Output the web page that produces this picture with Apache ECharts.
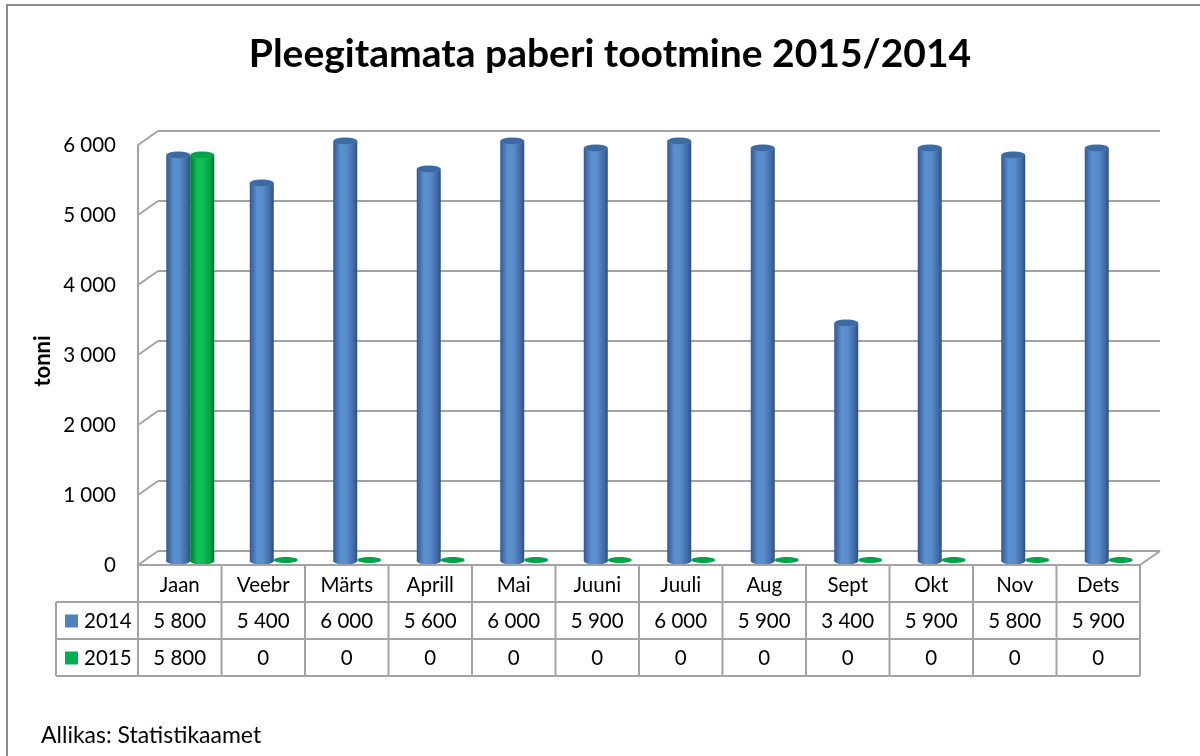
<!DOCTYPE html>
<html>
<head>
<meta charset="utf-8">
<script src="https://cdn.jsdelivr.net/npm/echarts@6/dist/echarts.min.js"></script>
<style>html,body{margin:0;padding:0;background:#fff}#c{width:1200px;height:756px}</style>
</head>
<body>
<div id="c"></div>
<script>
var categories = ['Jaan','Veebr','Märts','Aprill','Mai','Juuni','Juuli','Aug','Sept','Okt','Nov','Dets'];
var values2014 = [5800,5400,6000,5600,6000,5900,6000,5900,3400,5900,5800,5900];
var values2015 = [5800,0,0,0,0,0,0,0,0,0,0,0];
var seriesNames = ['2014','2015'];
var yTicks = [0,1000,2000,3000,4000,5000,6000];

var FONT = 'Lato';
var GRID_COLOR = '#a3a3a3';
var FS = 20.5;
function fmt(v){ return String(v).replace(/\B(?=(\d{3})+(?!\d))/g, ' '); }

var blueGrad = {type:'linear',x:0,y:0,x2:1,y2:0,colorStops:[
  {offset:0,color:'#33598b'},{offset:0.3,color:'#5b8fd0'},{offset:0.55,color:'#5a8ccc'},{offset:0.85,color:'#3f6ba6'},{offset:1,color:'#2c4f80'}]};
var greenGrad = {type:'linear',x:0,y:0,x2:1,y2:0,colorStops:[
  {offset:0,color:'#007a35'},{offset:0.3,color:'#10c25a'},{offset:0.55,color:'#0cbc55'},{offset:0.85,color:'#00a044'},{offset:1,color:'#006e30'}]};

function cylinder(offset, grad, topColor, zeroColor){
  return function(params, api){
    var v = api.value(1);
    var top = api.coord([api.value(0), v]);
    var bot = api.coord([api.value(0), 0]);
    var cx = top[0] + offset;
    var r = 12, ry = 3.5;
    if (v === 0) {
      return {type:'ellipse', shape:{cx:cx, cy:bot[1]-1, rx:r, ry:3}, style:{fill:zeroColor}};
    }
    return {type:'group', children:[
      {type:'ellipse', shape:{cx:cx, cy:bot[1], rx:r, ry:ry}, style:{fill:grad}},
      {type:'rect', shape:{x:cx-r, y:top[1], width:2*r, height:bot[1]-top[1]}, style:{fill:grad}},
      {type:'ellipse', shape:{cx:cx, cy:top[1], rx:r, ry:ry}, style:{fill:topColor, stroke:'rgba(255,255,255,0.15)', lineWidth:0.5}}
    ]};
  };
}

var chart = echarts.init(document.getElementById('c'));
var option = {
  backgroundColor:'#fff',
  animation:false,
  title:{text:'Pleegitamata paberi tootmine 2015/2014', left:605, top:30, textAlign:'center',
    textStyle:{fontFamily:FONT, fontWeight:'bold', fontSize:39, color:'#000'}},
  graphic:[
    {type:'rect', shape:{x:7, y:5, width:1250, height:800}, style:{fill:'none', stroke:'#8c8c8c', lineWidth:2}, silent:true, z:-1},
    {type:'text', left:41, top:724, style:{text:'Allikas: Statistikaamet', fontFamily:FONT, fontSize:23, fill:'#000'}},
    {type:'text', x:43, y:361, rotation:Math.PI/2, style:{text:'tonni', fontFamily:FONT, fontWeight:'bold', fontSize:22, fill:'#000', align:'center', verticalAlign:'middle'}}
  ],
  grid:[
    {left:158, top:131, width:1002, height:420},  // back wall
    {left:138, top:145, width:1002, height:420},  // front (axis + table)
    {left:148.5, top:141, width:1002, height:420} // bars (mid depth)
  ],
  xAxis:[
    {gridIndex:0, type:'category', data:categories, show:false},
    {gridIndex:1, type:'category', data:categories, axisLine:{show:false}, axisTick:{show:false}, axisLabel:{show:false}},
    {gridIndex:2, type:'category', data:categories, show:false}
  ],
  yAxis:[
    {gridIndex:0, type:'value', min:0, max:6000, interval:1000, axisLabel:{show:false}, axisLine:{show:false}, axisTick:{show:false},
      splitLine:{show:true, lineStyle:{color:GRID_COLOR, width:2}}},
    {gridIndex:1, type:'value', min:0, max:6000, interval:1000, splitLine:{show:false}, axisTick:{show:false},
      axisLine:{show:true, lineStyle:{color:GRID_COLOR, width:2}},
      axisLabel:{margin:22, fontFamily:FONT, fontSize:FS, color:'#000', formatter:fmt}},
    {gridIndex:2, type:'value', min:0, max:6000, interval:1000, show:false}
  ],
  series:[
    { // depth diagonals at ticks
      type:'custom', xAxisIndex:1, yAxisIndex:1, silent:true,
      data: yTicks.map(function(t){ return [0, t]; }),
      renderItem:function(params, api){
        var cs = params.coordSys;
        var y = api.coord([0, api.value(1)])[1];
        var ch = [{type:'line', shape:{x1:cs.x, y1:y, x2:cs.x+20, y2:y-14}, style:{stroke:GRID_COLOR, lineWidth:2}}];
        if (api.value(1) === 0) {
          ch.push({type:'line', shape:{x1:cs.x+cs.width, y1:y, x2:cs.x+cs.width+20, y2:y-14}, style:{stroke:GRID_COLOR, lineWidth:2}});
        }
        return {type:'group', children:ch};
      }
    },
    {
      name:seriesNames[0], type:'custom', xAxisIndex:2, yAxisIndex:2, z:5,
      data: values2014.map(function(v,i){ return [i, v]; }),
      renderItem: cylinder(-12, blueGrad, '#3c6aa3', '#3c6aa3')
    },
    {
      name:seriesNames[1], type:'custom', xAxisIndex:2, yAxisIndex:2, z:5,
      data: values2015.map(function(v,i){ return [i, v]; }),
      renderItem: cylinder(12, greenGrad, '#00a348', '#00a448')
    },
    { // data table
      type:'custom', xAxisIndex:1, yAxisIndex:1, silent:true, z:6,
      data: categories.map(function(c,i){ return [i, 0]; }),
      renderItem:function(params, api){
        var i = api.value(0);
        var c = api.coord([i, 0]);
        var w = api.size([1, 0])[0];
        var x0 = c[0] - w/2, x1 = c[0] + w/2, y0 = c[1], rh = 37;
        var ls = {stroke:GRID_COLOR, lineWidth:2};
        var ts = {fontFamily:FONT, fontSize:FS, fill:'#000', align:'center', verticalAlign:'middle'};
        var ch = [
          {type:'line', shape:{x1:x0, y1:y0, x2:x1, y2:y0}, style:ls},
          {type:'line', shape:{x1:x0, y1:y0+rh, x2:x1, y2:y0+rh}, style:ls},
          {type:'line', shape:{x1:x0, y1:y0+2*rh, x2:x1, y2:y0+2*rh}, style:ls},
          {type:'line', shape:{x1:x0, y1:y0+3*rh, x2:x1, y2:y0+3*rh}, style:ls},
          {type:'line', shape:{x1:x0, y1:y0, x2:x0, y2:y0+3*rh}, style:ls},
          {type:'text', style:Object.assign({x:c[0], y:y0+rh/2+2, text:categories[i]}, ts)},
          {type:'text', style:Object.assign({x:c[0], y:y0+rh*1.5+1, text:fmt(values2014[i])}, ts)},
          {type:'text', style:Object.assign({x:c[0], y:y0+rh*2.5+1, text:fmt(values2015[i])}, ts)}
        ];
        if (i === categories.length - 1) {
          ch.push({type:'line', shape:{x1:x1, y1:y0, x2:x1, y2:y0+3*rh}, style:ls});
        }
        if (i === 0) {
          var lx = x0 - 82;
          ch.push({type:'line', shape:{x1:lx, y1:y0+rh, x2:x0, y2:y0+rh}, style:ls});
          ch.push({type:'line', shape:{x1:lx, y1:y0+2*rh, x2:x0, y2:y0+2*rh}, style:ls});
          ch.push({type:'line', shape:{x1:lx, y1:y0+3*rh, x2:x0, y2:y0+3*rh}, style:ls});
          ch.push({type:'line', shape:{x1:lx, y1:y0+rh, x2:lx, y2:y0+3*rh}, style:ls});
          ch.push({type:'rect', shape:{x:lx+9, y:y0+rh*1.5-6, width:13, height:13}, style:{fill:'#4f81bd'}});
          ch.push({type:'rect', shape:{x:lx+9, y:y0+rh*2.5-6, width:13, height:13}, style:{fill:'#00b050'}});
          ch.push({type:'text', style:{x:lx+28, y:y0+rh*1.5+1, text:seriesNames[0], fontFamily:FONT, fontSize:FS, fill:'#000', verticalAlign:'middle'}});
          ch.push({type:'text', style:{x:lx+28, y:y0+rh*2.5+1, text:seriesNames[1], fontFamily:FONT, fontSize:FS, fill:'#000', verticalAlign:'middle'}});
        }
        return {type:'group', children:ch};
      }
    }
  ]
};
chart.setOption(option);
</script>
</body>
</html>
